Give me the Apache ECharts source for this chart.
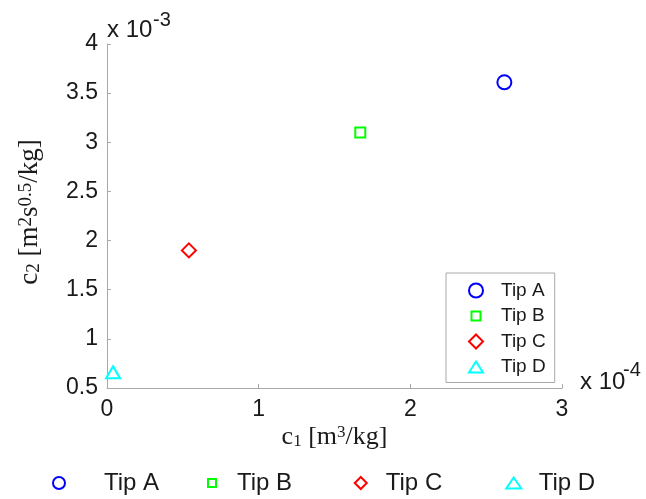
<!DOCTYPE html>
<html><head><meta charset="utf-8">
<script src="https://cdn.jsdelivr.net/npm/echarts@6/dist/echarts.min.js"></script>
<style>html,body{margin:0;padding:0;background:#fff}#c{width:646px;height:499px}</style>
</head><body><div id="c"></div>
<script>
// ---- data (c1 in units of 1e-4 m^3/kg, c2 in units of 1e-3 m^2 s^0.5/kg) ----
const seriesNames = ['Tip A', 'Tip B', 'Tip C', 'Tip D'];
const c1Values = [2.62, 1.67, 0.54, 0.04];
const c2Values = [3.61, 3.10, 1.90, 0.66];
const xTickLabels = ['0', '1', '2', '3'];
const yTickLabels = ['0.5', '1', '1.5', '2', '2.5', '3', '3.5', '4'];

// ---- styles ----
const markColors = ['#0000ff', '#00ff00', '#ff0000', '#00ffff'];
const markSymbols = ['circle', 'rect', 'diamond', 'triangle'];
const markSizes = [14, 10, 14, [14, 12]];
// legend icons drawn in a box the size of the legend item (40x14 / 40x12)
const innerIcons = [
  'circle',
  'path://M0,0M40,14M15.5,2.5L24.5,2.5L24.5,11.5L15.5,11.5Z',
  'path://M0,0M40,14M20,0L27,7L20,14L13,7Z',
  'path://M0,0M40,14M20,1.5L27,12.5L13,12.5Z'
];
const bottomIcons = [
  'circle',
  'path://M0,0M40,12M16,2L24,2L24,10L16,10Z',
  'path://M0,0M40,12M20,-1L27,6L20,13L13,6Z',
  'path://M0,0M40,12M20,0.5L27.5,11.5L12.5,11.5Z'
];
const sans = 'Liberation Sans, Arial, sans-serif';
const serif = 'Liberation Serif, Times New Roman, serif';
const axisGray = '#a8a8a8';
const textCol = '#1a1a1a';

const chart = echarts.init(document.getElementById('c'), null, {renderer: 'canvas'});

const serifRich = (fs, ss) => ({
  a: {fontFamily: serif, fontSize: fs, lineHeight: fs, fill: textCol},
  sub: {fontFamily: serif, fontSize: ss, lineHeight: 10, verticalAlign: 'bottom', fill: textCol},
  sup: {fontFamily: serif, fontSize: ss, lineHeight: 12, verticalAlign: 'top', fill: textCol}
});

const legendItems = (icons) => seriesNames.map((n, i) => ({name: n, icon: icons[i]}));

const option = {
  backgroundColor: '#fff',
  animation: false,
  grid: {left: 107, right: 84, top: 44, bottom: 111, containLabel: false, outerBoundsMode: 'none'},
  xAxis: {
    type: 'value', min: 0, max: 3, interval: 1,
    axisLine: {show: true, lineStyle: {color: axisGray, width: 1}},
    axisTick: {show: true, inside: true, length: 4, lineStyle: {color: axisGray}},
    axisLabel: {
      margin: 10, fontSize: 23, fontFamily: sans, color: textCol,
      formatter: (v) => xTickLabels[Math.round(v)]
    },
    splitLine: {show: false}
  },
  yAxis: {
    type: 'value', min: 0.5, max: 4, interval: 0.5,
    axisLine: {show: true, lineStyle: {color: axisGray, width: 1}},
    axisTick: {show: true, inside: true, length: 4, lineStyle: {color: axisGray}},
    axisLabel: {
      margin: 9, fontSize: 23, fontFamily: sans, color: textCol,
      formatter: (v) => yTickLabels[Math.round((v - 0.5) / 0.5)]
    },
    splitLine: {show: false}
  },
  legend: [
    {
      orient: 'vertical', left: 446, top: 273,
      padding: [8, 9, 6, 9], itemGap: 6.5,
      itemWidth: 40, itemHeight: 14,
      borderColor: axisGray, borderWidth: 1, backgroundColor: '#fff',
      textStyle: {fontSize: 19, fontFamily: sans, color: textCol},
      selectedMode: false,
      data: legendItems(innerIcons)
    },
    {
      orient: 'horizontal', left: 52, top: 471, padding: 0,
      itemWidth: 80, itemHeight: 12,
      textStyle: {fontSize: 24, fontFamily: sans, color: textCol},
      selectedMode: false,
      data: legendItems(bottomIcons).slice(0, 1)
    },
    {
      orient: 'horizontal', left: 191, top: 471, padding: 0,
      itemWidth: 40, itemHeight: 12, itemGap: 50.5,
      textStyle: {fontSize: 24, fontFamily: sans, color: textCol},
      selectedMode: false,
      data: legendItems(bottomIcons).slice(1)
    }
  ],
  series: seriesNames.map((n, i) => ({
    name: n, type: 'scatter',
    data: [[c1Values[i], c2Values[i]]],
    symbol: markSymbols[i], symbolSize: markSizes[i],
    itemStyle: {color: '#ffffff', borderColor: markColors[i], borderWidth: 2, opacity: 1},
    emphasis: {disabled: true}
  })),
  graphic: [
    {type: 'text', x: 107, y: 30.5, style: {text: 'x 10', fontSize: 24, fontFamily: sans, fill: textCol, align: 'left', verticalAlign: 'middle'}},
    {type: 'text', x: 153, y: 20, style: {text: '-3', fontSize: 20, fontFamily: sans, fill: textCol, align: 'left', verticalAlign: 'middle'}},
    {type: 'text', x: 580, y: 382.5, style: {text: 'x 10', fontSize: 24, fontFamily: sans, fill: textCol, align: 'left', verticalAlign: 'middle'}},
    {type: 'text', x: 623, y: 370, style: {text: '-4', fontSize: 20, fontFamily: sans, fill: textCol, align: 'left', verticalAlign: 'middle'}},
    {type: 'text', x: 334.5, y: 437, style: {
      text: '{a|c}{sub|1}{a| [m}{sup|3}{a|/kg]}', rich: serifRich(26, 17),
      align: 'center', verticalAlign: 'middle'}},
    {type: 'text', x: 30, y: 212, rotation: Math.PI / 2, style: {
      text: '{a|c}{sub|2}{a| [m}{sup|2}{a|s}{sup|0.5}{a|/kg]}', rich: serifRich(27, 19),
      align: 'center', verticalAlign: 'middle'}}
  ]
};
chart.setOption(option);
</script>
</body></html>
